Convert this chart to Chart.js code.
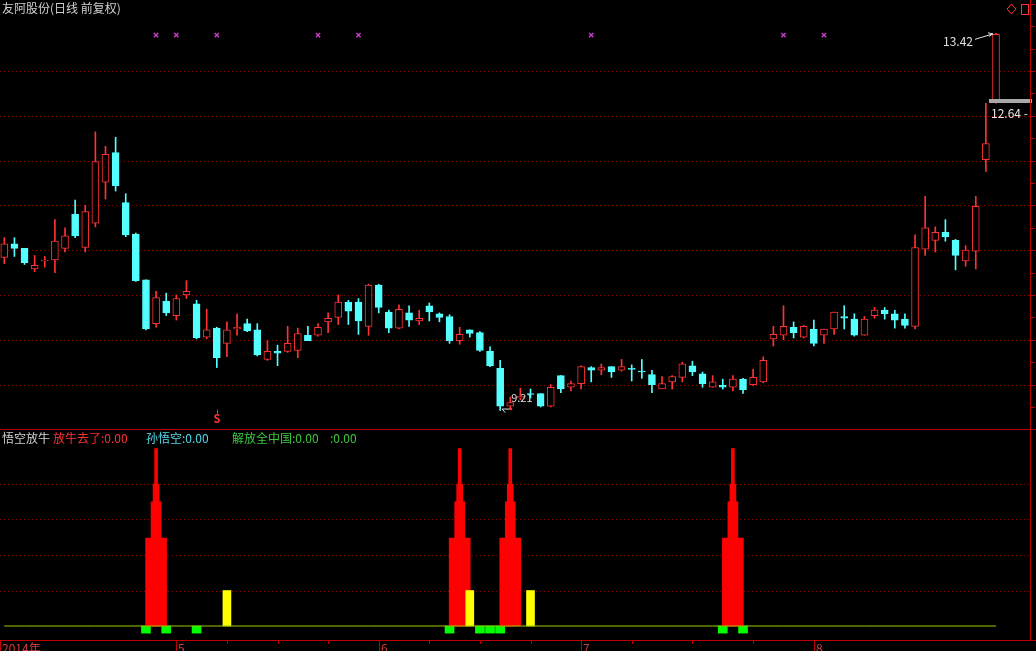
<!DOCTYPE html>
<html>
<head>
<meta charset="utf-8">
<script src="https://cdn.jsdelivr.net/npm/chart.js@4.4.0/dist/chart.umd.min.js"></script>
<style>
  html, body { margin: 0; padding: 0; background: #000; overflow: hidden; }
  #wrap { position: relative; width: 1036px; height: 651px; background: #000; }
  canvas { position: absolute; left: 0; }
  #kline { top: 0; }
  #ind { top: 429px; }
</style>
</head>
<body>
<div id="wrap">
  <canvas id="kline" width="1036" height="429"></canvas>
  <canvas id="ind" width="1036" height="222"></canvas>
</div>
<script>
// 日K数据 (2014-04 ~ 2014-08), 读图估计
const opens  = [10.92,11.07,11.02,10.79,10.88,10.89,11.02,11.40,11.03,11.30,
                11.76,12.09,11.53,11.18,10.67,10.18,10.43,10.27,10.50,10.40,
                10.03,10.13, 9.96,10.12,10.18,10.11, 9.78, 9.87, 9.87, 9.88,
                10.05,10.05,10.20,10.25,10.42,10.42,10.15,10.61,10.31,10.13,
                10.30,10.21,10.38,10.29,10.26, 9.99,10.11,10.08, 9.87, 9.68,
                 9.26, 9.35, 9.40, 9.40, 9.26, 9.60, 9.47, 9.51, 9.69, 9.66,
                 9.70, 9.66, 9.68, 9.65, 9.61, 9.45, 9.53, 9.58, 9.71, 9.62,
                 9.47, 9.49, 9.47, 9.56, 9.50, 9.53,10.01,10.05,10.14,10.03,
                10.12,10.05,10.12,10.26,10.23,10.05,10.27,10.33,10.29,10.23,
                10.15,11.01,11.11,11.20,11.11,10.88,10.99,12.01,12.66];
const highs  = [11.14,11.14,11.02,10.94,10.93,11.34,11.25,11.56,11.50,12.32,
                12.16,12.26,11.63,11.19,10.67,10.54,10.52,10.50,10.66,10.44,
                10.34,10.14,10.20,10.29,10.23,10.18, 9.99, 9.94,10.15,10.13,
                10.15,10.18,10.30,10.50,10.44,10.46,10.62,10.62,10.33,10.39,
                10.38,10.33,10.41,10.30,10.28,10.14,10.11,10.09, 9.92, 9.77,
                 9.36, 9.46, 9.45, 9.40, 9.50, 9.60, 9.54, 9.71, 9.70, 9.73,
                 9.70, 9.78, 9.72, 9.78, 9.66, 9.59, 9.60, 9.75, 9.76, 9.64,
                 9.60, 9.56, 9.60, 9.57, 9.67, 9.81,10.15,10.38,10.20,10.16,
                10.22,10.12,10.31,10.38,10.29,10.26,10.36,10.36,10.33,10.29,
                11.17,11.60,11.26,11.34,11.12,11.05,11.60,12.64,13.42];
const lows   = [10.85,10.93,10.84,10.76,10.81,10.75,10.98,11.14,10.98,11.26,
                11.57,11.66,11.15,10.65,10.11,10.14,10.27,10.22,10.46,10.01,
                10.01, 9.69, 9.81,10.05,10.09, 9.82, 9.77, 9.71, 9.86, 9.80,
                 9.99,10.04,10.08,10.17,10.17,10.06,10.05,10.30,10.08,10.12,
                10.15,10.17,10.21,10.20, 9.96, 9.95,10.03, 9.87, 9.70, 9.21,
                 9.22, 9.33, 9.35, 9.25, 9.25, 9.41, 9.43, 9.45, 9.53, 9.61,
                 9.58, 9.65, 9.54, 9.57, 9.41, 9.45, 9.45, 9.53, 9.60, 9.47,
                 9.47, 9.45, 9.43, 9.40, 9.49, 9.52, 9.93,10.00,10.02,10.02,
                 9.93, 9.96,10.06,10.12,10.04,10.05,10.24,10.23,10.13,10.13,
                10.12,10.94,10.98,11.10,10.78,10.82,10.79,11.88,12.64];
const closes = [11.07,11.02,10.86,10.83,10.89,11.10,11.16,11.16,11.43,11.99,
                12.07,11.72,11.17,10.66,10.12,10.47,10.30,10.46,10.54,10.02,
                10.11, 9.80,10.11,10.14,10.10, 9.83, 9.87, 9.85, 9.96,10.07,
                 9.99,10.14,10.24,10.42,10.32,10.21,10.61,10.36,10.13,10.34,
                10.22,10.24,10.31,10.25, 9.99,10.06,10.07, 9.88, 9.71, 9.26,
                 9.30, 9.37, 9.39, 9.26, 9.47, 9.45, 9.51, 9.70, 9.66, 9.69,
                 9.64, 9.70, 9.67, 9.64, 9.50, 9.51, 9.59, 9.73, 9.64, 9.51,
                 9.53, 9.47, 9.56, 9.44, 9.58, 9.77,10.06,10.15,10.08,10.15,
                 9.96,10.12,10.31,10.24,10.05,10.23,10.33,10.29,10.22,10.16,
                11.03,11.25,11.20,11.15,10.94,11.00,11.49,12.19,13.41];

// 顶部信号 (紫色 x) 所在K线
const markIdx = [15, 17, 21, 31, 35, 58, 77, 81];
const markLevel = 13.40;
// 卖出信号 S
const sellIdx = [21];
const sellLevel = 9.13;
// 区间最高/最低价标注
const hiLabel = '13.42', hiIdx = 98;
const loLabel = '9.21', loIdx = 49;
// 当前价
const lastPrice = 12.64;
const lastPriceLabel = '12.64 -';
// 主图网格价位
const priceGrid = [9.5, 10, 10.5, 11, 11.5, 12, 12.5, 13];
const priceTicks = [9.25, 9.5, 9.75, 10, 10.25, 10.5, 10.75, 11, 11.25, 11.5, 11.75, 12, 12.25, 12.5, 12.75, 13, 13.25, 13.5, 13.75];

// 副图: 悟空放牛
const spikeIdx = [15, 45, 50, 72];
const spikeSteps = [2.48, 3.5, 4.0, 5.0];
const yellowIdx = [22, 46, 52];
const yellowVal = [1, 1, 1];
const greenIdx = [14, 16, 19, 44, 47, 48, 49, 71, 73];
const greenVal = -0.2;
const indGrid = [1, 2, 3, 4];

// X轴
const monthIdx = [0, 17, 37, 57, 80];
const monthLabels = ['2014年', '5', '6', '7', '8'];
const minorIdx = [22, 27, 32, 42, 47, 52, 62, 68, 74];

const N = opens.length;
const idx = Array.from({length: N}, (_, i) => i);
const X_MIN = -0.425, X_MAX = 101.36;
const CJK = '"Noto Sans CJK SC", "Noto Sans", sans-serif';
const UP = '#ff3232', DOWN = '#54ffff', GRID = '#8a0000', FRAME = '#c00000';
const isUp = i => closes[i] >= opens[i];

function dotted(ctx, x0, x1, y) {
  ctx.save();
  ctx.strokeStyle = GRID;
  ctx.lineWidth = 1;
  ctx.setLineDash([1, 3]);
  ctx.beginPath();
  ctx.moveTo(x0, Math.round(y) + 0.5);
  ctx.lineTo(x1, Math.round(y) + 0.5);
  ctx.stroke();
  ctx.restore();
}

const klineDecor = {
  id: 'klineDecor',
  beforeDatasetsDraw(chart) {
    const {ctx, chartArea, scales: {x, y}} = chart;
    priceGrid.forEach(v => dotted(ctx, chartArea.left, chartArea.right, y.getPixelForValue(v)));
    // 最低价标注 (被K线压住)
    const lx = x.getPixelForValue(loIdx), ly = y.getPixelForValue(lows[loIdx]);
    ctx.save();
    ctx.fillStyle = '#e0e0e0';
    ctx.font = '11px ' + CJK;
    ctx.textBaseline = 'middle';
    ctx.fillText(loLabel, lx + 11, ly - 13);
    ctx.strokeStyle = '#e0e0e0';
    ctx.beginPath();
    ctx.moveTo(lx + 12, ly - 1.5); ctx.lineTo(lx + 2, ly - 1.5);
    ctx.moveTo(lx + 2, ly - 1.5); ctx.lineTo(lx + 5, ly + 2);
    ctx.stroke();
    ctx.restore();
  },
  afterDraw(chart) {
    const {ctx, chartArea, scales: {x, y}} = chart;
    ctx.save();
    // 标题
    ctx.fillStyle = '#d0d0d0';
    ctx.font = '12px ' + CJK;
    ctx.textBaseline = 'top';
    ctx.fillText('友阿股份(日线 前复权)', 2, 2);
    // 最高价标注
    const hx = x.getPixelForValue(hiIdx), hy = y.getPixelForValue(highs[hiIdx]);
    ctx.textAlign = 'right';
    ctx.textBaseline = 'middle';
    ctx.fillStyle = '#e0e0e0';
    ctx.font = '12px ' + CJK;
    ctx.fillText(hiLabel, hx - 23, hy + 8);
    ctx.strokeStyle = '#e0e0e0';
    ctx.lineWidth = 1;
    ctx.beginPath();
    ctx.moveTo(hx - 21, hy + 6); ctx.lineTo(hx - 3, hy + 0.5);
    ctx.moveTo(hx - 3, hy + 0.5); ctx.lineTo(hx - 8, hy - 0.5);
    ctx.moveTo(hx - 3, hy + 0.5); ctx.lineTo(hx - 7, hy + 3);
    ctx.stroke();
    // 当前价
    const py = y.getPixelForValue(lastPrice);
    ctx.fillStyle = '#a8a8a8';
    ctx.fillRect(989, Math.round(py) - 4, 43, 4);
    ctx.fillStyle = '#e8e8e8';
    ctx.textAlign = 'left';
    ctx.fillText(lastPriceLabel, 991, py + 10);
    // 卖出信号
    ctx.fillStyle = UP;
    ctx.strokeStyle = UP;
    ctx.font = 'bold 11px ' + CJK;
    ctx.textAlign = 'center';
    sellIdx.forEach(i => {
      const sx = x.getPixelForValue(i), sy = y.getPixelForValue(sellLevel);
      ctx.fillText('S', sx, sy + 1);
      ctx.beginPath();
      ctx.moveTo(Math.round(sx) + 0.5, sy - 8); ctx.lineTo(Math.round(sx) + 0.5, sy - 4);
      ctx.stroke();
    });
    // 右侧边框与刻度
    ctx.strokeStyle = FRAME;
    ctx.beginPath();
    ctx.moveTo(chartArea.right + 0.5, 0); ctx.lineTo(chartArea.right + 0.5, chartArea.bottom);
    priceTicks.forEach(v => {
      const ty = Math.round(y.getPixelForValue(v)) + 0.5;
      ctx.moveTo(chartArea.right, ty); ctx.lineTo(chartArea.right + 5, ty);
    });
    ctx.stroke();
    // 右上角图标
    ctx.strokeStyle = UP;
    ctx.beginPath();
    ctx.moveTo(1011.5, 4); ctx.lineTo(1016, 9); ctx.lineTo(1011.5, 14); ctx.lineTo(1007, 9); ctx.closePath();
    ctx.stroke();
    ctx.strokeRect(1021.5, 4.5, 7, 10);
    ctx.restore();
  }
};

new Chart(document.getElementById('kline'), {
  type: 'bar',
  data: {
    datasets: [
      {
        label: 'body',
        data: idx.map(i => ({x: i, y: [opens[i], closes[i]]})),
        backgroundColor: c => isUp(c.dataIndex) ? '#000000' : DOWN,
        borderColor: c => isUp(c.dataIndex) ? UP : DOWN,
        borderWidth: 1,
        borderSkipped: false,
        barThickness: 7,
        grouped: false
      },
      {
        label: 'wick',
        data: idx.map(i => ({x: i, y: [lows[i], highs[i]]})),
        backgroundColor: c => isUp(c.dataIndex) ? UP : DOWN,
        borderWidth: 0,
        barThickness: 1,
        grouped: false
      },
      {
        type: 'scatter',
        label: 'mark',
        data: markIdx.map(i => ({x: i, y: markLevel})),
        pointStyle: 'crossRot',
        pointRadius: 3,
        borderColor: '#c83cc8',
        borderWidth: 1.5
      }
    ]
  },
  options: {
    responsive: false,
    animation: false,
    devicePixelRatio: 1,
    events: [],
    layout: {autoPadding: false, padding: {left: 0, right: 6, top: 0, bottom: 0}},
    scales: {
      x: {type: 'linear', min: X_MIN, max: X_MAX, display: false, offset: false},
      y: {type: 'linear', min: 9.004, max: 13.792, display: false}
    },
    plugins: {legend: {display: false}, tooltip: {enabled: false}}
  },
  plugins: [klineDecor]
});

// ---------------- 副图 ----------------
const indDecor = {
  id: 'indDecor',
  beforeDatasetsDraw(chart) {
    const {ctx, chartArea, scales: {y}} = chart;
    indGrid.forEach(v => dotted(ctx, chartArea.left, chartArea.right, y.getPixelForValue(v)));
  },
  afterDraw(chart) {
    const {ctx, chartArea, scales: {x}} = chart;
    ctx.save();
    // 分隔线
    ctx.strokeStyle = FRAME;
    ctx.lineWidth = 1;
    ctx.beginPath();
    ctx.moveTo(0, 0.5); ctx.lineTo(chartArea.right + 6, 0.5);
    ctx.moveTo(chartArea.right + 0.5, 0); ctx.lineTo(chartArea.right + 0.5, chartArea.bottom);
    ctx.moveTo(0, chartArea.bottom + 0.5); ctx.lineTo(chartArea.right + 6, chartArea.bottom + 0.5);
    ctx.moveTo(0.5, chartArea.bottom); ctx.lineTo(0.5, 222);
    monthIdx.forEach((m, k) => {
      if (k === 0) return;
      const mx = Math.round(x.getPixelForValue(m)) + 0.5;
      ctx.moveTo(mx, chartArea.bottom); ctx.lineTo(mx, 222);
    });
    minorIdx.forEach(m => {
      const mx = Math.round(x.getPixelForValue(m)) + 0.5;
      ctx.moveTo(mx, chartArea.bottom); ctx.lineTo(mx, chartArea.bottom + 4);
    });
    ctx.stroke();
    // 月份标签
    ctx.fillStyle = '#d03c3c';
    ctx.font = '12px ' + CJK;
    ctx.textBaseline = 'top';
    monthIdx.forEach((m, k) => {
      const mx = k === 0 ? 2 : Math.round(x.getPixelForValue(m)) + 2;
      ctx.fillText(monthLabels[k], mx, chartArea.bottom + 2);
    });
    // 指标名称与数值
    ctx.textBaseline = 'middle';
    const items = [
      ['悟空放牛', '#d0d0d0', 2],
      ['放牛去了:0.00', '#ff3232', 53],
      ['孙悟空:0.00', '#54d8e8', 146],
      ['解放全中国:0.00', '#3cc83c', 232],
      [':0.00', '#3cc83c', 330]
    ];
    items.forEach(([t, c, px]) => { ctx.fillStyle = c; ctx.fillText(t, px, 9); });
    ctx.restore();
  }
};

const spikeWidths = [21, 10, 6, 3];
const spikeSets = spikeSteps.map((v, k) => ({
  label: 'spike' + k,
  data: spikeIdx.map(i => ({x: i, y: v})),
  backgroundColor: '#ff0000',
  borderWidth: 0,
  barThickness: spikeWidths[k],
  grouped: false
})).reverse();

new Chart(document.getElementById('ind'), {
  type: 'bar',
  data: {
    datasets: [
      {
        type: 'line',
        label: 'base',
        data: idx.map(i => ({x: i, y: 0})),
        borderColor: '#9ccc00',
        borderWidth: 1,
        pointRadius: 0
      },
      {
        label: 'yellow',
        data: yellowIdx.map((i, k) => ({x: i, y: yellowVal[k]})),
        backgroundColor: '#ffff00',
        borderWidth: 0,
        barThickness: 8,
        grouped: false
      },
      ...spikeSets,
      {
        label: 'green',
        data: greenIdx.map(i => ({x: i, y: [greenVal, 0]})),
        backgroundColor: '#00ff00',
        borderWidth: 0,
        barThickness: 9,
        grouped: false
      }
    ]
  },
  options: {
    responsive: false,
    animation: false,
    devicePixelRatio: 1,
    events: [],
    layout: {autoPadding: false, padding: {left: 0, right: 6, top: 0, bottom: 11}},
    scales: {
      x: {type: 'linear', min: X_MIN, max: X_MAX, display: false, offset: false},
      y: {type: 'linear', min: -0.394, max: 5.549, display: false}
    },
    plugins: {legend: {display: false}, tooltip: {enabled: false}}
  },
  plugins: [indDecor]
});
</script>
</body>
</html>
